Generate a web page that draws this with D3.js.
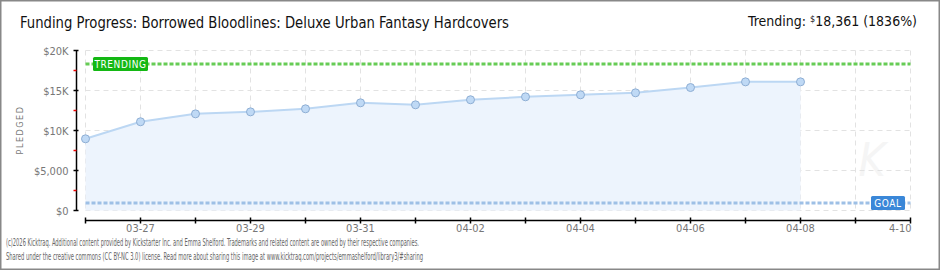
<!DOCTYPE html>
<html><head><meta charset="utf-8">
<script src="https://cdn.jsdelivr.net/npm/d3@7"></script>
<style>
html,body{margin:0;padding:0;background:#fff;}
svg{display:block;}
</style></head>
<body>
<svg id="chart" width="940" height="270"></svg>
<script>
const dates = ["03-26","03-27","03-28","03-29","03-30","03-31","04-01","04-02","04-03","04-04","04-05","04-06","04-07","04-08"];
const pledged = [8960,11090,12080,12330,12710,13460,13210,13840,14210,14460,14710,15370,16080,16080];
const axisDays = ["03-26","03-27","03-28","03-29","03-30","03-31","04-01","04-02","04-03","04-04","04-05","04-06","04-07","04-08","04-09","04-10"];
const xTickLabels = ["03-27","03-29","03-31","04-02","04-04","04-06","04-08","4-10"];
const yTicks = [0,5000,10000,15000,20000];
const yTickLabels = ["$0","$5,000","$10K","$15K","$20K"];
const yMinorTicks = [2500,7500,12500,17500];
const goal = 1000;
const trending = 18361;
const title = "Funding Progress: Borrowed Bloodlines: Deluxe Urban Fantasy Hardcovers";
const trendText = "18,361 (1836%)";
const footer = ["(c)2026 Kicktraq. Additional content provided by Kickstarter Inc. and Emma Shelford. Trademarks and related content are owned by their respective companies.",
"Shared under the creative commons (CC BY-NC 3.0) license. Read more about sharing this image at www.kicktraq.com/projects/emmashelford/library3/#sharing"];

const svg = d3.select("#chart");
const font = "'DejaVu Sans Condensed','DejaVu Sans',sans-serif";

const x = d3.scalePoint().domain(axisDays).range([85.5, 910.5]);
const y = d3.scaleLinear().domain([0,20000]).range([210.5,50.5]);

// border
svg.append("rect").attr("x",0.75).attr("y",0.75).attr("width",938.5).attr("height",268.5)
  .attr("fill","#fff").attr("stroke","#888").attr("stroke-width",1.5);

// watermark (drawn first, very faint)
svg.append("text").attr("x",872).attr("y",176).attr("text-anchor","middle").text("K")
  .attr("font-family",font).attr("font-style","italic").attr("font-size",46).attr("fill","#f5f5f5");

// title
svg.append("text").attr("x",20).attr("y",28).text(title)
  .attr("font-family",font).attr("font-size",16).attr("fill","#111")
  .attr("textLength",489).attr("lengthAdjust","spacingAndGlyphs");

// trending header
const th = svg.append("text").attr("x",748).attr("y",26).attr("font-family",font).attr("font-size",14).attr("fill","#111");
th.append("tspan").text("Trending: ");
th.append("tspan").attr("font-size",9).attr("dy",-4).text("$");
th.append("tspan").attr("dy",4).text(trendText);

// grid
const g = svg.append("g");
g.selectAll("line.vg").data(axisDays).join("line")
  .attr("x1",d=>x(d)).attr("x2",d=>x(d)).attr("y1",y(20000)).attr("y2",y(0))
  .attr("stroke","#e2e2e2").attr("stroke-dasharray","5,4");
g.selectAll("line.hg").data(yTicks).join("line")
  .attr("x1",x(axisDays[0])).attr("x2",x(axisDays[axisDays.length-1])).attr("y1",d=>y(d)).attr("y2",d=>y(d))
  .attr("stroke","#e2e2e2").attr("stroke-dasharray","5,4");

// area
const pts = dates.map((d,i)=>({d, v:pledged[i]}));
g.append("path").datum(pts)
  .attr("d", d3.area().x(p=>x(p.d)).y0(y(0)).y1(p=>y(p.v)))
  .attr("fill","#edf4fd");
g.append("path").datum(pts)
  .attr("d", d3.line().x(p=>x(p.d)).y(p=>y(p.v)))
  .attr("fill","none").attr("stroke","#bcd7f3").attr("stroke-width",2);

// trending line
g.append("line").attr("x1",x(axisDays[0])).attr("x2",x(axisDays[axisDays.length-1]))
  .attr("y1",Math.round(y(trending))).attr("y2",Math.round(y(trending)))
  .attr("stroke","#66cc55").attr("stroke-width",3).attr("stroke-dasharray","4,2");
// goal line
g.append("line").attr("x1",x(axisDays[0])).attr("x2",x(axisDays[axisDays.length-1]))
  .attr("y1",Math.round(y(goal))).attr("y2",Math.round(y(goal)))
  .attr("stroke","#9ec0e6").attr("stroke-width",3).attr("stroke-dasharray","4,2");

// points
g.selectAll("circle").data(pts).join("circle")
  .attr("cx",p=>x(p.d)).attr("cy",p=>y(p.v)).attr("r",4)
  .attr("fill","#bfd9f5").attr("stroke","#8eaed4").attr("stroke-width",1);

// labels
const ty = Math.round(y(trending));
svg.append("rect").attr("x",93).attr("y",ty-7).attr("width",55).attr("height",14).attr("rx",1.5)
  .attr("fill","#14b814");
svg.append("text").attr("x",120.5).attr("y",ty+4).attr("text-anchor","middle").text("TRENDING")
  .attr("font-family",font).attr("font-size",10).attr("fill","#fff").attr("letter-spacing",0.6);
const gy = Math.round(y(goal));
svg.append("rect").attr("x",871).attr("y",gy-7).attr("width",34).attr("height",14).attr("rx",1.5)
  .attr("fill","#3a87d8");
svg.append("text").attr("x",888).attr("y",gy+4).attr("text-anchor","middle").text("GOAL")
  .attr("font-family",font).attr("font-size",10).attr("fill","#fff").attr("letter-spacing",0.6);

// y axis
const yAxis = svg.append("g").attr("transform","translate(76.5,0)");
yAxis.append("line").attr("y1",y(20000)).attr("y2",y(0)).attr("stroke","#000").attr("stroke-width",1.5);
yAxis.selectAll("line.mj").data(yTicks).join("line").attr("class","mj")
  .attr("x1",-3).attr("x2",2).attr("y1",d=>y(d)).attr("y2",d=>y(d)).attr("stroke","#000").attr("stroke-width",1.5);
yAxis.selectAll("line.mn").data(yMinorTicks).join("line").attr("class","mn")
  .attr("x1",-3).attr("x2",0).attr("y1",d=>y(d)).attr("y2",d=>y(d)).attr("stroke","#e00").attr("stroke-width",1.5);
yAxis.selectAll("text").data(yTicks).join("text")
  .attr("x",-8).attr("y",d=>y(d)+4).attr("text-anchor","end").text((d,i)=>yTickLabels[i])
  .attr("font-family",font).attr("font-size",11).attr("fill","#777");

svg.append("text").attr("transform","translate(23,130) rotate(-90)").attr("text-anchor","middle")
  .text("PLEDGED").attr("font-family",font).attr("font-size",9).attr("fill","#777").attr("letter-spacing",1.5);

// x axis
const xAxisG = svg.append("g").attr("transform","translate(0,220.5)");
xAxisG.append("line").attr("x1",x(axisDays[0])).attr("x2",x(axisDays[axisDays.length-1])).attr("stroke","#000").attr("stroke-width",1.5);
xAxisG.selectAll("line.t").data(axisDays).join("line").attr("class","t")
  .attr("x1",d=>x(d)).attr("x2",d=>x(d)).attr("y1",-3).attr("y2",3).attr("stroke","#000").attr("stroke-width",1.5);
const labDays = ["03-27","03-29","03-31","04-02","04-04","04-06","04-08","04-10"];
xAxisG.selectAll("text").data(labDays).join("text")
  .attr("x",(d,i)=>i===labDays.length-1 ? x(d)+1 : x(d)).attr("y",11)
  .attr("text-anchor",(d,i)=>i===labDays.length-1?"end":"middle")
  .text((d,i)=>xTickLabels[i]).attr("font-family",font).attr("font-size",11).attr("fill","#777");

// footer
svg.selectAll("text.ft").data(footer).join("text").attr("class","ft")
  .attr("x",6).attr("y",(d,i)=>246+i*14).text(d=>d)
  .attr("font-family",font).attr("font-size",10.5).attr("fill","#666")
  .attr("textLength",(d,i)=>i===0?413:417).attr("lengthAdjust","spacingAndGlyphs");
</script>
</body></html>
